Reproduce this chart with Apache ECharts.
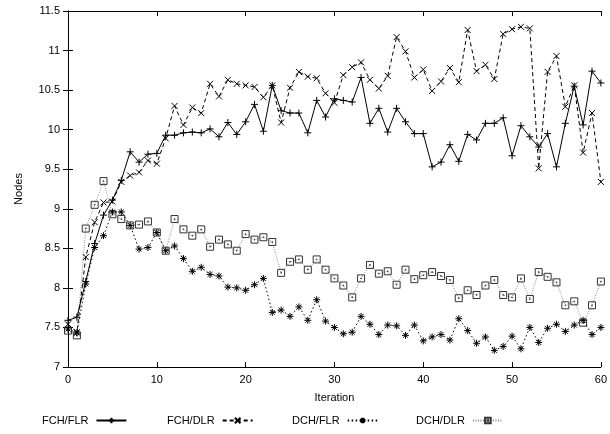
<!DOCTYPE html>
<html><head><meta charset="utf-8">
<script src="https://cdn.jsdelivr.net/npm/echarts@6/dist/echarts.min.js"></script>
<style>html,body{margin:0;padding:0;background:#fff}#c{width:610px;height:434px}</style>
</head><body><div id="c"></div>
<script>
const seriesNames = ['FCH/FLR', 'FCH/DLR', 'DCH/FLR', 'DCH/DLR'];
const xTicks = [0, 10, 20, 30, 40, 50, 60];
const yTicks = [7, 7.5, 8, 8.5, 9, 9.5, 10, 10.5, 11, 11.5];
const fchFlr = [7.59,7.63,8.08,8.56,8.92,9.11,9.36,9.72,9.59,9.69,
  9.70,9.93,9.93,9.96,9.97,9.96,10.01,9.91,10.09,9.94,
  10.10,10.32,9.98,10.56,10.24,10.21,10.21,9.96,10.37,10.16,
  10.39,10.37,10.35,10.66,10.08,10.27,9.97,10.27,10.10,9.95,
  9.95,9.53,9.59,9.81,9.60,9.94,9.87,10.08,10.08,10.15,
  9.67,10.05,9.91,9.78,9.95,9.53,10.08,10.55,10.06,10.74,10.59];
const fchDlr = [7.54,7.44,8.39,8.83,9.08,9.09,9.34,9.42,9.46,9.61,
  9.57,9.89,10.30,10.06,10.28,10.21,10.58,10.42,10.63,10.58,
  10.56,10.54,10.41,10.56,10.09,10.53,10.73,10.67,10.65,10.46,
  10.34,10.69,10.79,10.85,10.63,10.52,10.68,11.17,10.99,10.66,
  10.76,10.49,10.61,10.78,10.60,11.26,10.74,10.82,10.64,11.21,
  11.27,11.30,11.28,9.51,10.73,10.93,10.29,10.56,9.71,10.21,9.34];
const dchFlr = [7.48,7.43,8.05,8.51,8.66,8.96,8.96,8.79,8.49,8.51,
  8.70,8.47,8.53,8.37,8.21,8.26,8.17,8.15,8.01,8.00,
  7.97,8.04,8.12,7.69,7.72,7.64,7.76,7.59,7.85,7.58,
  7.50,7.42,7.44,7.64,7.54,7.41,7.53,7.52,7.40,7.53,
  7.33,7.38,7.41,7.34,7.61,7.46,7.30,7.38,7.21,7.26,
  7.39,7.23,7.50,7.31,7.49,7.54,7.45,7.53,7.59,7.41,7.50];
const dchDlr = [7.46,7.40,8.75,9.05,9.35,8.93,8.87,8.79,8.80,8.84,
  8.70,8.47,8.87,8.74,8.66,8.74,8.52,8.61,8.55,8.47,
  8.68,8.61,8.64,8.58,8.19,8.33,8.36,8.23,8.36,8.23,
  8.12,8.03,7.88,8.12,8.29,8.18,8.21,8.04,8.23,8.11,
  8.16,8.20,8.15,8.10,7.87,7.97,7.91,8.03,8.10,7.91,
  7.88,8.12,7.86,8.20,8.14,8.07,7.78,7.83,7.56,7.78,8.08];

const FONT = 'Liberation Sans';
const plusSym = 'path://M0,5L10,5M5,0L5,10';
const xSym = 'path://M0,0L10,10M10,0L0,10';
const starSym = 'path://M0,5L10,5M5,0L5,10M1.5,1.5L8.5,8.5M8.5,1.5L1.5,8.5';
const sqSym = 'path://M0,0L10,0L10,10L0,10ZM4.5,4.5L5.5,4.5L5.5,5.5L4.5,5.5Z';

function pairs(arr){ return arr.map((v,i)=>[i,v]); }

const styles = [
  {data: fchFlr, line:{color:'#000', width:1, type:'solid'}, sym: plusSym, size: 7, border:'#000'},
  {data: fchDlr, line:{color:'#000', width:1, type:[4,3]}, sym: xSym, size: 6, border:'#000'},
  {data: dchFlr, line:{color:'#000', width:1, type:[1.5,2.5]}, sym: starSym, size: 7, border:'#000'},
  {data: dchDlr, line:{color:'#888', width:1, type:[1,1.5]}, sym: sqSym, size: 7, border:'#333'}
];

const series = styles.map((s, k) => ({
  name: seriesNames[k],
  type: 'line',
  data: pairs(s.data),
  symbol: s.sym,
  symbolSize: s.size,
  showAllSymbol: true,
  lineStyle: s.line,
  itemStyle: {color: 'rgba(0,0,0,0)', borderColor: s.border, borderWidth: 1},
  animation: false,
  z: 10 - k
}));

const legendLefts = [42, 167, 292, 416];
const legends = seriesNames.map((n, k) => ({
  data: [n], left: legendLefts[k], top: 415, align: 'right', orient: 'horizontal',
  itemWidth: 30, itemHeight: 7, itemGap: 0, padding: 0,
  textStyle: {fontFamily: FONT, fontSize: 11, color: '#000', padding: [0, 3, 0, 0]},
  selectedMode: false
}));

const axisCommon = {
  axisLine: {show: true, lineStyle: {color: '#000', width: 1}},
  axisTick: {show: true, inside: true, length: 5, lineStyle: {color: '#000'}},
  splitLine: {show: false}
};

const option = {
  backgroundColor: '#fff',
  animation: false,
  legend: legends,
  grid: {left: 68, right: 8, top: 11, bottom: 67},
  xAxis: [
    Object.assign({type: 'value', min: xTicks[0], max: xTicks[xTicks.length-1], interval: 10,
      position: 'bottom', name: 'Iteration', nameLocation: 'middle', nameGap: 25,
      nameTextStyle: {fontFamily: FONT, fontSize: 11, color: '#000'},
      axisLabel: {fontFamily: FONT, fontSize: 11, color: '#000', margin: 7}}, axisCommon),
    Object.assign({type: 'value', min: xTicks[0], max: xTicks[xTicks.length-1], interval: 10,
      position: 'top', axisLabel: {show: false}}, axisCommon)
  ],
  yAxis: [
    Object.assign({type: 'value', min: yTicks[0], max: yTicks[yTicks.length-1], interval: 0.5,
      position: 'left', name: 'Nodes', nameLocation: 'middle', nameGap: 44, nameRotate: 90,
      nameTextStyle: {fontFamily: FONT, fontSize: 11, color: '#000'},
      axisLabel: {fontFamily: FONT, fontSize: 11, color: '#000', margin: 8}}, axisCommon),
    Object.assign({type: 'value', min: yTicks[0], max: yTicks[yTicks.length-1], interval: 0.5,
      position: 'right', axisLabel: {show: false}}, axisCommon)
  ],
  series: series
};

const chart = echarts.init(document.getElementById('c'), null, {renderer: 'canvas'});
chart.setOption(option);
</script>
</body></html>
